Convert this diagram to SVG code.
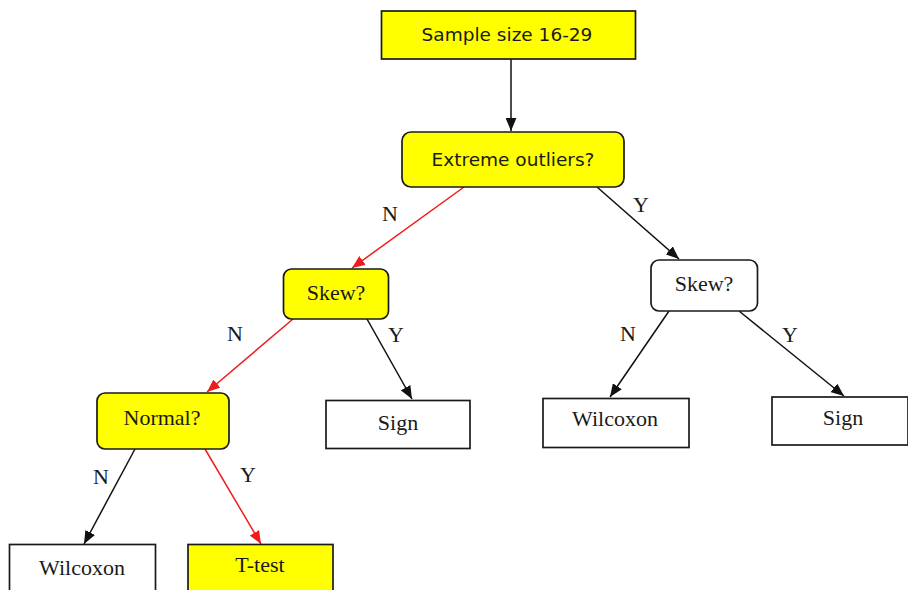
<svg xmlns="http://www.w3.org/2000/svg" width="908" height="590" viewBox="0 0 908 590">
  <style>
    .box { stroke: #1a1a1a; stroke-width: 1.7; }
    .yes { fill: #ffff00; }
    .no { fill: #ffffff; }
    .sans { font-family: "DejaVu Sans", "Liberation Sans", sans-serif; font-size: 18.5px; fill: #1a1a1a; text-anchor: middle; }
    .serif { font-family: "Liberation Serif", "DejaVu Serif", serif; font-size: 22px; fill: #1a1a1a; text-anchor: middle; }
    .edge { fill: none; stroke-width: 1.5; }
    .blk { stroke: #111111; }
    .red { stroke: #ee1c1c; }
  </style>
  <defs>
    <marker id="ahBlack" viewBox="0 0 12 10" refX="12" refY="5" markerWidth="13" markerHeight="11" markerUnits="userSpaceOnUse" orient="auto">
      <path d="M0,0 L12,5 L0,10 z" fill="#111111"/>
    </marker>
    <marker id="ahRed" viewBox="0 0 12 10" refX="12" refY="5" markerWidth="13" markerHeight="11" markerUnits="userSpaceOnUse" orient="auto">
      <path d="M0,0 L12,5 L0,10 z" fill="#ee1c1c"/>
    </marker>
  </defs>

  <!-- connectors -->
  <g id="connectors">
    <line class="edge blk" x1="511" y1="59" x2="511" y2="131" marker-end="url(#ahBlack)"/>
    <line class="edge red" x1="464" y1="187" x2="352" y2="268" marker-end="url(#ahRed)"/>
    <line class="edge blk" x1="597" y1="187" x2="679" y2="259" marker-end="url(#ahBlack)"/>
    <line class="edge red" x1="293" y1="319" x2="207" y2="392" marker-end="url(#ahRed)"/>
    <line class="edge blk" x1="367" y1="319" x2="412" y2="399" marker-end="url(#ahBlack)"/>
    <line class="edge blk" x1="669" y1="311" x2="610" y2="397" marker-end="url(#ahBlack)"/>
    <line class="edge blk" x1="739" y1="311" x2="844" y2="396" marker-end="url(#ahBlack)"/>
    <line class="edge blk" x1="135" y1="449" x2="84" y2="544" marker-end="url(#ahBlack)"/>
    <line class="edge red" x1="205" y1="449" x2="261" y2="544" marker-end="url(#ahRed)"/>
    <!-- branch labels -->
    <text class="serif" x="390" y="221">N</text>
    <text class="serif" x="641" y="212">Y</text>
    <text class="serif" x="235" y="341">N</text>
    <text class="serif" x="396" y="342">Y</text>
    <text class="serif" x="628" y="341">N</text>
    <text class="serif" x="790" y="342">Y</text>
    <text class="serif" x="101" y="484">N</text>
    <text class="serif" x="248" y="482">Y</text>
  </g>

  <g id="sample-size">
    <rect class="box yes" x="381.5" y="11" width="254" height="48"/>
    <text class="sans" x="507" y="41">Sample size 16-29</text>
  </g>
  <g id="extreme-outliers">
    <rect class="box yes" x="402" y="132" width="222" height="55" rx="9"/>
    <text class="sans" x="513" y="166">Extreme outliers?</text>
  </g>
  <g id="skew-left">
    <rect class="box yes" x="283.5" y="269" width="105" height="50" rx="8"/>
    <text class="serif" x="336" y="300">Skew?</text>
  </g>
  <g id="skew-right">
    <rect class="box no" x="651" y="260" width="106.5" height="51" rx="8"/>
    <text class="serif" x="704" y="291">Skew?</text>
  </g>
  <g id="normal">
    <rect class="box yes" x="97" y="393" width="132" height="56" rx="8"/>
    <text class="serif" x="162" y="425">Normal?</text>
  </g>
  <g id="sign-mid">
    <rect class="box no" x="326" y="400.5" width="144" height="48"/>
    <text class="serif" x="398" y="430">Sign</text>
  </g>
  <g id="wilcoxon-right">
    <rect class="box no" x="543" y="398.5" width="146" height="49"/>
    <text class="serif" x="615" y="426">Wilcoxon</text>
  </g>
  <g id="sign-right">
    <rect class="box no" x="772" y="397" width="136" height="48"/>
    <text class="serif" x="843" y="425">Sign</text>
  </g>
  <g id="wilcoxon-left">
    <rect class="box no" x="9.5" y="544.5" width="146" height="60"/>
    <text class="serif" x="82" y="575">Wilcoxon</text>
  </g>
  <g id="t-test">
    <rect class="box yes" x="188" y="544.5" width="145" height="60"/>
    <text class="serif" x="260" y="572">T-test</text>
  </g>
</svg>
